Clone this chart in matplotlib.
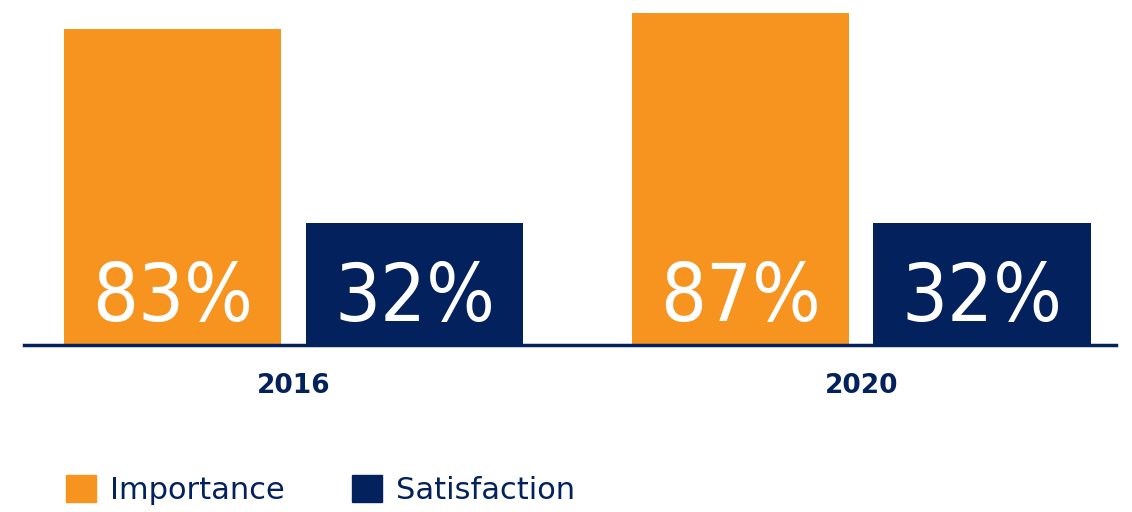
import numpy as np
import matplotlib.pyplot as plt
from matplotlib.patches import Patch

# data
years = ['2016', '2020']
importance = [83, 87]
satisfaction = [32, 32]
series_names = ['Importance', 'Satisfaction']

orange = '#F6941F'
navy = '#03215C'

fig = plt.figure(figsize=(11.32, 5.12), dpi=100)
ax = fig.add_axes([24 / 1132, (512 - 345) / 512, (1116 - 24) / 1132, 345 / 512])

x = np.arange(len(years))
w = 0.383
off = 0.213
b1 = ax.bar(x - off, importance, w, color=orange)
b2 = ax.bar(x + off, satisfaction, w, color=navy)

# big white labels inside the bars
for bars, vals in [(b1, importance), (b2, satisfaction)]:
    for bar, v in zip(bars, vals):
        ax.text(bar.get_x() + bar.get_width() / 2, 6.3, f'{v}%',
                ha='center', va='baseline', color='white', fontsize=58,
                fontstretch='condensed', family='DejaVu Sans')

ax.set_xlim(-0.475, 1.449)
ax.set_ylim(0, 90.5)
ax.set_xticks(x)
ax.set_xticklabels(years, fontsize=19, fontweight='bold', color=navy)
ax.tick_params(axis='x', length=0, pad=20)
ax.set_yticks([])
for s in ['top', 'right', 'left']:
    ax.spines[s].set_visible(False)
ax.spines['bottom'].set_color(navy)
ax.spines['bottom'].set_linewidth(2.5)

handles = [Patch(color=orange), Patch(color=navy)]
fig.legend(handles, series_names, loc='lower left', bbox_to_anchor=(38 / 1132, -0.04),
           ncol=2, frameon=False, fontsize=22, handlelength=1.0, handleheight=1.0,
           handletextpad=0.45, columnspacing=2.2, labelcolor=navy)

fig.savefig('out.png', dpi=100)
